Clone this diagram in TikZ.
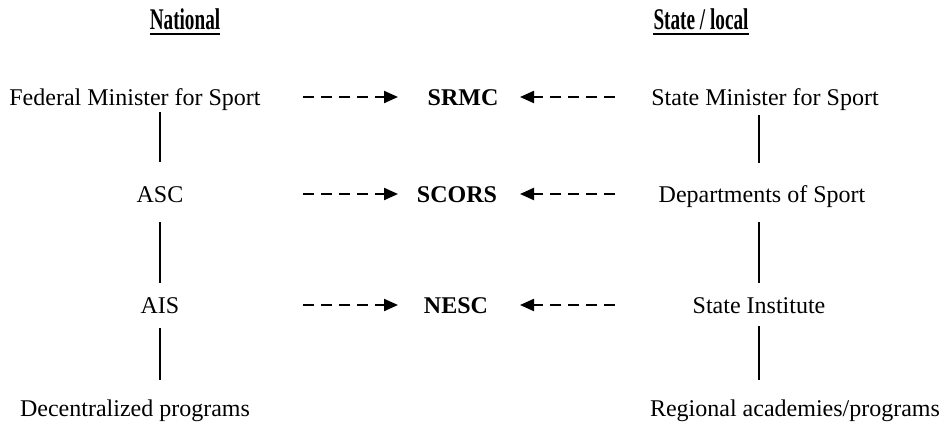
\documentclass[tikz,border=0pt]{standalone}
\usepackage{fontspec}
\setmainfont{Liberation Serif}
\newfontfamily\headfont[FakeStretch=0.64]{Liberation Serif Bold}
\usetikzlibrary{arrows.meta}
\begin{document}
\begin{tikzpicture}[x=1pt,y=-1pt,
  txt/.style={inner sep=0pt,font=\fontsize{24}{28}\selectfont,anchor=base,text height=17pt,text depth=5pt},
  bld/.style={txt,font=\fontsize{24}{28}\selectfont\bfseries},
  head/.style={inner sep=0pt,font=\fontsize{30}{32}\headfont,anchor=base},
  vline/.style={line width=1.4pt},
  darr/.style={line width=2.2pt,dash pattern=on 11pt off 7pt,-{Triangle[length=14pt,width=12pt]}},
  uline/.style={line width=2.8pt}]
\useasboundingbox (0,0) rectangle (945,428);
% headers
\node[head] (nat) at (185,30) {National};
\node[head] (sta) at (701,30) {State / local};
\draw[uline] ([yshift=-4pt]nat.base west) -- ([yshift=-4pt]nat.base east);
\draw[uline] ([yshift=-4pt]sta.base west) -- ([yshift=-4pt]sta.base east);
% left column
\node[txt] (fed) at (135,105) {Federal Minister for Sport};
\node[txt] (asc) at (160,202) {ASC};
\node[txt] (ais) at (160,313) {AIS};
\node[txt] (dec) at (135,416) {Decentralized programs};
% centre
\node[bld] (srmc) at (463,105) {SRMC};
\node[bld] (scors) at (457,202) {SCORS};
\node[bld] (nesc) at (456,313) {NESC};
% right column
\node[txt] (smin) at (765,105) {State Minister for Sport};
\node[txt] (dep) at (762,202) {Departments of Sport};
\node[txt] (sin) at (759,313) {State Institute};
\node[txt] (reg) at (795,416) {Regional academies/programs};
% vertical connectors
\draw[vline,shorten <=2pt,shorten >=23pt] (fed.south -| asc.north) -- (asc.north);
\draw[vline,shorten <=15pt,shorten >=13pt] (asc.south) -- (ais.north);
\draw[vline,shorten <=10pt,shorten >=19pt] (ais.south) -- (dec.north -| ais.north);
\draw[vline,shorten <=5pt,shorten >=22pt] (smin.south -| sin.north) -- (dep.north -| sin.north);
\draw[vline,shorten <=15pt,shorten >=13pt] (dep.south -| sin.north) -- (sin.north);
\draw[vline,shorten <=8pt,shorten >=19pt] (sin.south) -- (reg.north -| sin.north);
% x positions of the dashed arrows
\coordinate (xl1) at (303,0); \coordinate (xl2) at (398,0);
\coordinate (xr1) at (615,0); \coordinate (xr2) at (520,0);
\coordinate (r1) at ([yshift=8pt]srmc.base);
\coordinate (r2) at ([yshift=8pt]scors.base);
\coordinate (r3) at ([yshift=8pt]nesc.base);
% dashed arrows
\draw[darr] (xl1 |- r1) -- (xl2 |- r1);
\draw[darr] (xr1 |- r1) -- (xr2 |- r1);
\draw[darr] (xl1 |- r2) -- (xl2 |- r2);
\draw[darr] (xr1 |- r2) -- (xr2 |- r2);
\draw[darr] (xl1 |- r3) -- (xl2 |- r3);
\draw[darr] (xr1 |- r3) -- (xr2 |- r3);
\end{tikzpicture}
\end{document}
